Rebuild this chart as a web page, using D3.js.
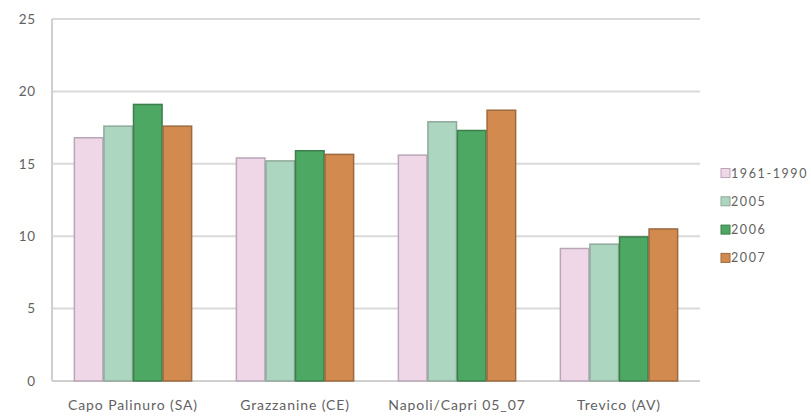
<!DOCTYPE html>
<html>
<head>
<meta charset="utf-8">
<script src="https://cdn.jsdelivr.net/npm/d3@7"></script>
<style>
  html, body { margin: 0; padding: 0; background: #ffffff; }
  svg { display: block; }
  text { font-family: Lato, "Open Sans", sans-serif; fill: #626262; }
</style>
</head>
<body>
<svg id="chart" width="811" height="420"></svg>
<script>
// Stations and yearly mean values per series
const categories = ["Capo Palinuro (SA)", "Grazzanine (CE)", "Napoli/Capri 05_07", "Trevico (AV)"];
const seriesNames = ["1961-1990", "2005", "2006", "2007"];
const values1961_1990 = [16.8, 15.4, 15.6, 9.15];
const values2005 = [17.6, 15.2, 17.9, 9.45];
const values2006 = [19.1, 15.9, 17.3, 9.95];
const values2007 = [17.6, 15.65, 18.7, 10.5];
const yTicks = [0, 5, 10, 15, 20, 25];

const seriesValues = [values1961_1990, values2005, values2006, values2007];
const fills = ["#efd7e8", "#acd6c0", "#4ca862", "#d28a4e"];
const strokes = ["#b9a6b6", "#8fa89a", "#3c7e4c", "#9c6a40"];

const svg = d3.select("#chart");
const plotLeft = 52, plotRight = 700, plotTop = 19, plotBottom = 381;

const x = d3.scaleBand().domain(categories).range([plotLeft, plotRight])
  .paddingInner(0.27).paddingOuter(0.135);
const xInner = d3.scaleBand().domain(seriesNames).range([0, x.bandwidth()]);
const y = d3.scaleLinear().domain([0, 25]).range([plotBottom, plotTop]);

// horizontal gridlines
svg.append("g").selectAll("line").data(yTicks.filter(d => d > 0)).join("line")
  .attr("x1", plotLeft).attr("x2", plotRight)
  .attr("y1", d => y(d)).attr("y2", d => y(d))
  .attr("stroke", "#d9d9d9").attr("stroke-width", 2);

// y axis labels
const yAxis = d3.axisLeft(y).tickValues(yTicks).tickSize(0).tickPadding(0)
  .tickFormat(d3.format("d"));
const gy = svg.append("g").attr("transform", `translate(${plotLeft - 16},0)`).call(yAxis);
gy.select(".domain").remove();
gy.selectAll("text").style("font-family", "Lato, 'Open Sans', sans-serif")
  .style("font-size", "13.5px").style("letter-spacing", "0.8px").attr("fill", "#626262");

// axis lines
svg.append("line").attr("x1", plotLeft).attr("x2", plotLeft).attr("y1", plotTop).attr("y2", plotBottom)
  .attr("stroke", "#d0d0d0").attr("stroke-width", 2);
svg.append("line").attr("x1", plotLeft).attr("x2", plotRight).attr("y1", plotBottom).attr("y2", plotBottom)
  .attr("stroke", "#d0d0d0").attr("stroke-width", 2);

// bars
const rows = [];
categories.forEach((c, i) => {
  seriesNames.forEach((s, j) => rows.push({ c, s, j, v: seriesValues[j][i] }));
});
svg.append("g").selectAll("rect").data(rows).join("rect")
  .attr("x", d => x(d.c) + xInner(d.s) + 0.5)
  .attr("y", d => y(d.v))
  .attr("width", xInner.bandwidth() - 1)
  .attr("height", d => y(0) - y(d.v))
  .attr("fill", d => fills[d.j])
  .attr("stroke", d => strokes[d.j])
  .attr("stroke-width", 1.5);

// category labels
const xAxis = d3.axisBottom(x).tickSize(0).tickPadding(0);
const gx = svg.append("g").attr("transform", `translate(0,${plotBottom + 19})`).call(xAxis);
gx.select(".domain").remove();
gx.selectAll("text").style("font-family", "Lato, 'Open Sans', sans-serif")
  .style("font-size", "14px").style("letter-spacing", "0.9px").attr("fill", "#626262");

// legend
const legend = svg.append("g").selectAll("g").data(seriesNames).join("g")
  .attr("transform", (d, i) => `translate(721,${173 + i * 28.3})`);
legend.append("rect").attr("x", 0).attr("y", -4.5).attr("width", 9).attr("height", 9)
  .attr("fill", (d, i) => fills[i]).attr("stroke", (d, i) => strokes[i]).attr("stroke-width", 1);
legend.append("text").attr("x", 10).attr("y", 0).attr("dy", "0.36em")
  .style("font-size", "12.5px").style("letter-spacing", "1.6px").text(d => d);
</script>
</body>
</html>
